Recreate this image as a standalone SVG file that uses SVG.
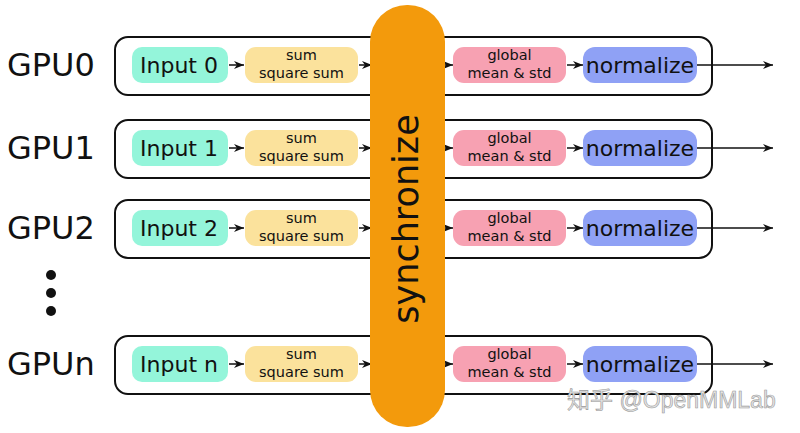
<svg xmlns="http://www.w3.org/2000/svg" width="800" height="433" viewBox="0 0 800 433">
<defs>
<marker id="ah" viewBox="0 0 10 8" refX="10" refY="4" markerWidth="10" markerHeight="8" markerUnits="userSpaceOnUse" orient="auto">
<path d="M0,0 L10,4 L0,8 L3,4 Z" fill="#111"/>
</marker>
<style>
.gpu{font-family:"DejaVu Sans",sans-serif;font-size:32px;fill:#111}
.box{stroke:#111;stroke-width:2;fill:#fff}
.inp{fill:#94f5da}
.sum{fill:#fbe29c}
.glob{fill:#f7a1b2}
.norm{fill:#8fa1f5}
.t21{font-family:"DejaVu Sans",sans-serif;font-size:22px;fill:#111;text-anchor:middle}
.t14{font-family:"DejaVu Sans",sans-serif;font-size:14.5px;fill:#111;text-anchor:middle}
.conn line{stroke:#111;stroke-width:1.5;marker-end:url(#ah)}
</style>
</defs>
<rect width="800" height="433" fill="#fff"/>

<g id="gpu0">
<text class="gpu" x="7" y="76">GPU0</text>
<rect class="box" x="115" y="37" width="597" height="58" rx="13"/>
</g>
<g id="gpu1">
<text class="gpu" x="7" y="159">GPU1</text>
<rect class="box" x="115" y="120" width="597" height="58" rx="13"/>
</g>
<g id="gpu2">
<text class="gpu" x="7" y="239">GPU2</text>
<rect class="box" x="115" y="200" width="597" height="58" rx="13"/>
</g>
<g id="dots" fill="#111">
<circle cx="51" cy="275" r="5"/>
<circle cx="51" cy="293" r="5"/>
<circle cx="51" cy="311" r="5"/>
</g>
<g id="gpun">
<text class="gpu" x="7" y="375">GPUn</text>
<rect class="box" x="115" y="336" width="597" height="58" rx="13"/>
</g>

<g id="inputs">
<rect class="inp" x="132" y="47" width="96" height="36" rx="10"/>
<text class="t21" x="179" y="73">Input 0</text>
<rect class="inp" x="132" y="130" width="96" height="36" rx="10"/>
<text class="t21" x="179" y="156">Input 1</text>
<rect class="inp" x="132" y="210" width="96" height="36" rx="10"/>
<text class="t21" x="179" y="236">Input 2</text>
<rect class="inp" x="132" y="346" width="96" height="36" rx="10"/>
<text class="t21" x="179" y="372">Input n</text>
</g>

<g id="sums">
<rect class="sum" x="245" y="47" width="113" height="36" rx="11"/>
<text class="t14" x="301.5" y="60">sum</text><text class="t14" x="301.5" y="78">square sum</text>
<rect class="sum" x="245" y="130" width="113" height="36" rx="11"/>
<text class="t14" x="301.5" y="143">sum</text><text class="t14" x="301.5" y="161">square sum</text>
<rect class="sum" x="245" y="210" width="113" height="36" rx="11"/>
<text class="t14" x="301.5" y="223">sum</text><text class="t14" x="301.5" y="241">square sum</text>
<rect class="sum" x="245" y="346" width="113" height="36" rx="11"/>
<text class="t14" x="301.5" y="359">sum</text><text class="t14" x="301.5" y="377">square sum</text>
</g>

<g id="globals">
<rect class="glob" x="453" y="47" width="113" height="36" rx="11"/>
<text class="t14" x="509.5" y="60">global</text><text class="t14" x="509.5" y="78">mean &amp; std</text>
<rect class="glob" x="453" y="130" width="113" height="36" rx="11"/>
<text class="t14" x="509.5" y="143">global</text><text class="t14" x="509.5" y="161">mean &amp; std</text>
<rect class="glob" x="453" y="210" width="113" height="36" rx="11"/>
<text class="t14" x="509.5" y="223">global</text><text class="t14" x="509.5" y="241">mean &amp; std</text>
<rect class="glob" x="453" y="346" width="113" height="36" rx="11"/>
<text class="t14" x="509.5" y="359">global</text><text class="t14" x="509.5" y="377">mean &amp; std</text>
</g>

<g id="normalizes">
<rect class="norm" x="583" y="47" width="114" height="36" rx="12"/>
<text class="t21" x="640" y="73">normalize</text>
<rect class="norm" x="583" y="130" width="114" height="36" rx="12"/>
<text class="t21" x="640" y="156">normalize</text>
<rect class="norm" x="583" y="210" width="114" height="36" rx="12"/>
<text class="t21" x="640" y="236">normalize</text>
<rect class="norm" x="583" y="346" width="114" height="36" rx="12"/>
<text class="t21" x="640" y="372">normalize</text>
</g>

<g id="connectors" class="conn">
<line x1="229" y1="65" x2="244" y2="65"/><line x1="359" y1="65" x2="372" y2="65"/><line x1="445" y1="65" x2="453" y2="65"/><line x1="567" y1="65" x2="583" y2="65"/><line x1="697" y1="65" x2="773" y2="65"/>
<line x1="229" y1="148" x2="244" y2="148"/><line x1="359" y1="148" x2="372" y2="148"/><line x1="445" y1="148" x2="453" y2="148"/><line x1="567" y1="148" x2="583" y2="148"/><line x1="697" y1="148" x2="773" y2="148"/>
<line x1="229" y1="228" x2="244" y2="228"/><line x1="359" y1="228" x2="372" y2="228"/><line x1="445" y1="228" x2="453" y2="228"/><line x1="567" y1="228" x2="583" y2="228"/><line x1="697" y1="228" x2="773" y2="228"/>
<line x1="229" y1="364" x2="244" y2="364"/><line x1="359" y1="364" x2="372" y2="364"/><line x1="445" y1="364" x2="453" y2="364"/><line x1="567" y1="364" x2="583" y2="364"/><line x1="697" y1="364" x2="773" y2="364"/>
</g>

<g id="synchronize">
<rect x="370" y="5" width="75" height="422" rx="37" fill="#f39a0c"/>
<text transform="translate(418,219) rotate(-90)" text-anchor="middle" font-family="DejaVu Sans, sans-serif" font-size="35" fill="#111">synchronize</text>
</g>

<text x="567" y="408" font-family="Liberation Sans, Noto Sans CJK SC, sans-serif" font-size="23" fill="#e4e4e4" stroke="#9a9a9a" stroke-width="0.6">知乎 @OpenMMLab</text>
</svg>
